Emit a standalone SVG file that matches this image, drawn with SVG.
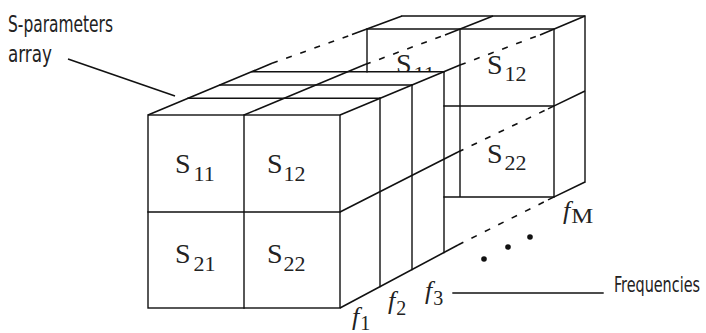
<svg xmlns="http://www.w3.org/2000/svg" width="706" height="333" viewBox="0 0 706 333">
<style>
.ln{fill:none;stroke:#111;stroke-width:1.4;stroke-linecap:square}
.dg{fill:none;stroke:#111;stroke-width:1.6}
.ds{fill:none;stroke:#111;stroke-width:1.6;stroke-dasharray:6 9}
.s{font-family:"Liberation Serif","Times New Roman",serif;font-size:28px;fill:#222}
.sub{font-size:22px}
.f{font-family:"Liberation Serif","Times New Roman",serif;font-style:italic;font-size:26px;fill:#222}
.fs{font-style:normal;font-size:20px}
.lab{font-family:"DejaVu Sans Condensed","DejaVu Sans","Liberation Sans",sans-serif;fill:#222}
</style>
<defs>
<clipPath id="behind"><rect x="0" y="0" width="706" height="71"/></clipPath>
</defs>
<rect width="706" height="333" fill="#fff"/>

<g id="far-block">
<path class="ln" d="M367 29 H554 M367 29 V71.7 M460 29 V197 M554 29 V197 M444 106 H554 M444 197 H554 M402 16 H585 M585 16 V182"/>
<text class="s" x="396" y="73" clip-path="url(#behind)">S<tspan class="sub" dx="2" dy="8">11</tspan></text>
<text class="s" x="487" y="74">S<tspan class="sub" dx="2" dy="7">12</tspan></text>
<text class="s" x="487" y="163">S<tspan class="sub" dx="2" dy="7">22</tspan></text>
</g>

<g id="front-block">
<rect class="ln" x="148" y="115" width="192" height="193"/>
<path class="ln" d="M244 115 V308 M148 212 H340"/>
<path class="ln" d="M188 98.3 H380 M220 85 H412 M252 71.7 H444"/>
<path class="ln" d="M380 98.3 V286.6 M412 85 V269.5 M444 71.7 V252.5"/>
<text class="s" x="175" y="173">S<tspan class="sub" dx="3" dy="8">11</tspan></text>
<text class="s" x="267" y="173">S<tspan class="sub" dx="1" dy="8">12</tspan></text>
<text class="s" x="175" y="263">S<tspan class="sub" dx="3" dy="8">21</tspan></text>
<text class="s" x="267" y="263">S<tspan class="sub" dx="1" dy="8">22</tspan></text>
</g>

<g id="connectors">
<path class="dg" d="M148 115 L272 63.3 M244 115 L365 64.6 M340 115 L460 65 M340 212 L458 152 M340 308 L458 245"/>
<path class="ds" d="M272 63.3 L352 34.6 M365 64.6 L445 34.9 M460 65 L540 34.9 M458 152 L548 108.9 M458 245 L548 199.9"/>
<path class="dg" d="M352 34.6 L402 16 M445 34.9 L493 16 M540 34.9 L585 16 M548 108.9 L585 91 M548 199.9 L585 182"/>
<path class="dg" d="M68 59 L175 96"/>
<path class="ln" d="M453 293 H603"/>
</g>

<g id="dots" fill="#111">
<circle cx="484" cy="259" r="2.8"/>
<circle cx="508" cy="247" r="2.8"/>
<circle cx="530" cy="237" r="2.8"/>
</g>

<g id="labels">
<text class="f" x="352" y="325">f<tspan class="fs" dx="1" dy="5">1</tspan></text>
<text class="f" x="388" y="309">f<tspan class="fs" dx="1" dy="6">2</tspan></text>
<text class="f" x="425" y="299">f<tspan class="fs" dx="1" dy="6">3</tspan></text>
<text class="f" x="563" y="219">f<tspan class="fs" dx="1" dy="4" font-size="18" textLength="22" lengthAdjust="spacingAndGlyphs">M</tspan></text>
<text class="lab" x="8" y="32" font-size="23" textLength="105" lengthAdjust="spacingAndGlyphs">S-parameters</text>
<text class="lab" x="8" y="62" font-size="23" textLength="44" lengthAdjust="spacingAndGlyphs">array</text>
<text class="lab" x="614" y="292" font-size="21" textLength="86" lengthAdjust="spacingAndGlyphs">Frequencies</text>
</g>
</svg>
